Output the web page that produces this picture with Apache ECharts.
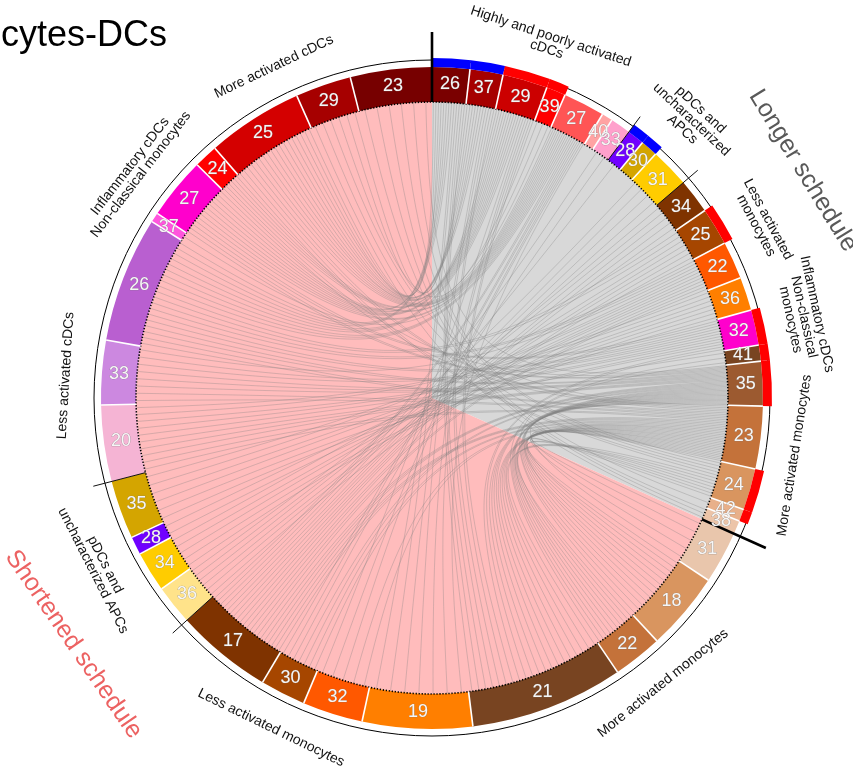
<!DOCTYPE html>
<html><head><meta charset="utf-8">
<script src="https://cdn.jsdelivr.net/npm/echarts@6/dist/echarts.min.js"></script>
<style>html,body{margin:0;padding:0;background:#fff}#c{width:853px;height:769px}</style>
</head><body><div id="c"></div>
<script>
// ================= DATA =================
const titleText = 'cytes-DCs';
const scheduleNames = ['Longer schedule', 'Shortened schedule'];
const scheduleSegCounts = [21, 21];

// segments, clockwise from the top
const segNumbers = [26,37,29,39,27,40,33,28,30,31,34,25,22,36,32,41,35,23,24,42,38,
                    31,18,22,21,19,32,30,17,36,34,28,35,20,33,26,37,27,24,25,29,23];
const segSizes = [6.6,5.8,7.9,3.4,7.3,1.9,3.6,3.0,3.0,6.9,6.1,6.6,6.6,5.9,6.2,2.8,7.8,11.0,7.3,2.1,2.4,
                  9.2,13.8,8.7,27.0,19.3,10.6,8.0,17.0,7.0,7.1,3.2,10.3,13.4,11.3,22.1,1.7,10.9,4.2,16.9,9.8,14.3];
const segColors = ['#7a0000','#a60000','#cc0000','#ff0000','#ff5555','#ffa3a3','#ffa0cc','#7000ff','#d4a500','#ffcc00',
                   '#7f3300','#a64600','#ff5800','#ff7f00','#ff00cc','#784421','#9c5a30','#c4723a','#d9955f','#e8b08a','#ecc4a8',
                   '#e9c6ac','#d9955f','#c4723a','#784421','#ff7f00','#ff5800','#a64600','#7f3300','#ffe38a','#ffcc00',
                   '#7000ff','#d4a500','#f5b4d4','#cc88e0','#b95fd0','#ff55dd','#ff00cc','#ff0000','#d40000','#a60000','#770000'];
const segMarks = ['blue','blue','red','red','','','','blue','blue','','','red','','','red','red','red','','red','red','',
                  '','','','','','','','','','','','','','','','','','','','',''];

const groupNames = ['Highly and poorly activated\ncDCs', 'pDCs and\nuncharacterized\nAPCs', 'Less activated\nmonocytes',
                    'Inflammatory cDCs\nNon-classical\nmonocytes', 'More activated monocytes',
                    'More activated monocytes', 'Less activated monocytes', 'pDCs and\nuncharacterized APCs',
                    'Less activated cDCs', 'Inflammatory cDCs\nNon-classical monocytes', 'More activated cDCs'];
const groupSegCounts = [7,3,4,1,6, 4,4,4,3,2,4];

// links: [shortened segment, longer segment, number of links]
const linkPairs = [
  [35,0,3],[35,2,3],[35,4,3],[37,0,2],[37,1,2],[37,2,3],[37,4,2],[38,2,2],[38,4,2],
  [39,0,3],[39,1,3],[39,2,3],[39,3,2],[39,4,3],[40,1,2],[40,3,1],[36,4,1],
  [21,16,1],[21,17,2],[21,18,2],[22,15,1],[22,16,5],[22,17,5],[22,18,2],
  [23,15,1],[23,16,4],[23,17,4],[23,18,1],[24,14,2],[24,16,4],[24,17,5],[24,18,2],
  [24,0,3],[24,1,2],[24,2,2],[25,0,2],[25,1,2],[25,2,2],[25,4,1],
  [26,2,1],[26,4,2],[26,17,2],[27,4,2],[27,6,1],[27,16,2],[27,17,2],
  [28,4,2],[28,6,1],[28,7,1],[28,9,3],[28,10,3],[28,11,2],[28,12,2],[28,16,3],[28,17,3],
  [29,9,1],[29,10,2],[29,11,2],[29,12,1],[30,11,1],[30,12,2],[30,13,2],[31,12,1],[31,13,1],
  [32,12,2],[32,13,2],[32,14,2],
  [33,13,2],[33,14,2],[33,15,1],[33,16,3],[33,17,2],[34,12,1],[34,14,2],[34,16,3],[34,17,2],
  [35,11,2],[35,12,2],[35,14,2],[35,16,2],[35,17,2],[37,14,2],[37,16,2],[38,16,1],[38,17,1],
  [39,17,2],[39,18,2],[40,17,1],[40,18,1],[40,20,1],[41,16,1],[41,18,2],[41,19,1],[41,20,2]
];

// ================= LAYOUT / STYLE =================
const L = { cx: 432, cy: 398, rIn: 296, rOut: 331, rText: 314, rCircle: 338, rBand0: 331, rBand1: 340,
            rTick: 350, rMajor: 366, cp: 0.15, labelBase: 367, labelStep: 13.5, scheduleR: 435 };
const LABEL_ANGLE = [18.2, 43, 62, 77.7, 99, 141, 206, 243, 273.5, 307.5, 334.5];
const SCHEDULE_ANGLE = [58.5, 235.5];
const SCHEDULE_BG = ['#d8d8d8', '#ffbcbc'];
const SCHEDULE_TXT = ['#595959', '#ec6262'];
const FONT = '"Liberation Sans", Arial, sans-serif';

// ================= DERIVED =================
const segStart = []; { let acc = 0; segSizes.forEach(s => { segStart.push(acc); acc += s; }); }
const segEnd = segSizes.map((s, i) => segStart[i] + s);
const segSchedule = []; scheduleSegCounts.forEach((n, g) => { for (let k = 0; k < n; k++) segSchedule.push(g); });
const segGroup = []; groupSegCounts.forEach((n, g) => { for (let k = 0; k < n; k++) segGroup.push(g); });
const scheduleRanges = []; { let i = 0; scheduleSegCounts.forEach(n => { scheduleRanges.push([segStart[i], segEnd[i + n - 1]]); i += n; }); }
const SPLIT = scheduleRanges[0][1];
const segCenter = i => segStart[i] + segSizes[i] / 2;
const unwrap = a => a < SPLIT ? a + 360 : a;

// link endpoint layout inside each segment
const ends = segNumbers.map(() => []);
const links = [];
linkPairs.forEach(([s, d, n]) => {
  for (let k = 0; k < n; k++) {
    const id = links.length; links.push({});
    ends[s].push({ id, key: -unwrap(segCenter(d)), sub: k, side: 'a' });
    ends[d].push({ id, key: -unwrap(segCenter(s)), sub: -k, side: 'b' });
  }
});
ends.forEach((list, i) => {
  list.sort((x, y) => (x.key - y.key) || (x.sub - y.sub));
  const n = list.length;
  list.forEach((e, j) => { links[e.id][e.side] = segStart[i] + segSizes[i] * (j + 0.5) / n; });
});

// boundaries
const boundaries = segNumbers.map((_, i) => {
  const p = (i + segNumbers.length - 1) % segNumbers.length;
  let kind = 'white';
  if (segSchedule[p] !== segSchedule[i]) kind = 'major';
  else if (segGroup[p] !== segGroup[i] && (groupNames[segGroup[p]].startsWith('pDCs') || groupNames[segGroup[i]].startsWith('pDCs'))) kind = 'tick';
  return [segStart[i], kind];
});

// group label lines
const labelItems = [];
groupNames.forEach((name, g) => {
  const lines = name.split('\n'); const n = lines.length; const th = LABEL_ANGLE[g];
  const lower = th > 90 && th < 270;
  lines.forEach((t, k) => {
    labelItems.push({ text: t, r: L.labelBase + (lower ? k : (n - 1 - k)) * L.labelStep, th, rot: lower ? th - 180 : th });
  });
});

// ================= HELPERS =================
function sectorShape(api, cs, r0, r1, a0, a1) {
  const o0 = api.coord([r1, a0]), o1 = api.coord([r1, a1]), i0 = api.coord([r0, a0]);
  const cx = cs.cx, cy = cs.cy;
  let s = Math.atan2(o0[1] - cy, o0[0] - cx), e = Math.atan2(o1[1] - cy, o1[0] - cx);
  while (e <= s + 1e-9) e += Math.PI * 2;
  return { cx, cy, r0: Math.hypot(i0[0] - cx, i0[1] - cy), r: Math.hypot(o0[0] - cx, o0[1] - cy), startAngle: s, endAngle: e, clockwise: true };
}
function radialLine(api, r0, r1, a) {
  const p = api.coord([r0, a]), q = api.coord([r1, a]);
  return { x1: p[0], y1: p[1], x2: q[0], y2: q[1] };
}
const base = { type: 'custom', coordinateSystem: 'polar', silent: true, animation: false };

const chart = echarts.init(document.getElementById('c'));
chart.setOption({
  animation: false,
  title: { text: titleText, left: -4, top: 13, textStyle: { fontSize: 36, fontWeight: 'normal', color: '#000', fontFamily: FONT } },
  polar: { center: [L.cx, L.cy], radius: 450 },
  angleAxis: { type: 'value', min: 0, max: 360, startAngle: 90, clockwise: true, show: false,
               axisLine: { show: false }, axisTick: { show: false }, axisLabel: { show: false }, splitLine: { show: false } },
  radiusAxis: { type: 'value', min: 0, max: 450, show: false,
                axisLine: { show: false }, axisTick: { show: false }, axisLabel: { show: false }, splitLine: { show: false } },
  series: [
    Object.assign({}, base, { name: 'schedules', z: 1,
      data: scheduleRanges.map((r, g) => [r[0], r[1], g]),
      renderItem: (params, api) => ({ type: 'sector', shape: sectorShape(api, params.coordSys, 0, L.rIn, api.value(0), api.value(1)),
        style: { fill: SCHEDULE_BG[api.value(2)] } }) }),
    Object.assign({}, base, { name: 'links', z: 2,
      data: links.map(l => [l.a, l.b]),
      renderItem: (params, api) => {
        const a = api.value(0), b = api.value(1);
        const p0 = api.coord([L.rIn, a]), p1 = api.coord([L.rIn, b]);
        const c0 = api.coord([L.rIn * L.cp, a]), c1 = api.coord([L.rIn * L.cp, b]);
        return { type: 'bezierCurve', shape: { x1: p0[0], y1: p0[1], x2: p1[0], y2: p1[1], cpx1: c0[0], cpy1: c0[1], cpx2: c1[0], cpy2: c1[1] },
          style: { fill: 'none', stroke: 'rgba(125,125,125,0.4)', lineWidth: 0.8 } };
      } }),
    Object.assign({}, base, { name: 'segments', z: 3,
      data: segNumbers.map((n, i) => [segStart[i], segEnd[i], i]),
      renderItem: (params, api) => ({ type: 'sector', shape: sectorShape(api, params.coordSys, L.rIn, L.rOut, api.value(0), api.value(1)),
        style: { fill: segColors[api.value(2)] } }) }),
    Object.assign({}, base, { name: 'rings', z: 4,
      data: [[L.rIn, 0], [L.rCircle, 1]],
      renderItem: (params, api) => {
        const cs = params.coordSys; const p = api.coord([api.value(0), 0]);
        const r = Math.hypot(p[0] - cs.cx, p[1] - cs.cy);
        const dotted = api.value(1) === 0;
        return { type: 'circle', shape: { cx: cs.cx, cy: cs.cy, r },
          style: { fill: 'none', stroke: '#000', lineWidth: dotted ? 1.6 : 1, lineDash: dotted ? [1.3, 1.7] : null } };
      } }),
    Object.assign({}, base, { name: 'marks', z: 5,
      data: segMarks.map((m, i) => [segStart[i], segEnd[i], i]).filter(d => segMarks[d[2]]),
      renderItem: (params, api) => ({ type: 'sector', shape: sectorShape(api, params.coordSys, L.rBand0, L.rBand1, api.value(0), api.value(1)),
        style: { fill: segMarks[api.value(2)] === 'blue' ? '#0000ff' : '#ff0000' } }) }),
    Object.assign({}, base, { name: 'boundaries', z: 6,
      data: boundaries.map(b => [b[0], b[1] === 'white' ? 0 : b[1] === 'tick' ? 1 : 2]),
      renderItem: (params, api) => {
        const k = api.value(1), a = api.value(0);
        if (k === 0) return { type: 'line', shape: radialLine(api, L.rIn, L.rOut, a), style: { stroke: '#fff', lineWidth: 1.6 } };
        if (k === 1) return { type: 'line', shape: radialLine(api, L.rIn, L.rTick, a), style: { stroke: '#111', lineWidth: 1 } };
        return { type: 'line', shape: radialLine(api, L.rIn, L.rMajor, a), style: { stroke: '#000', lineWidth: 2.6 } };
      } }),
    Object.assign({}, base, { name: 'numbers', z: 7,
      data: segNumbers.map((n, i) => [L.rText, segCenter(i), n]),
      renderItem: (params, api) => {
        const p = api.coord([api.value(0), api.value(1)]);
        return { type: 'text', x: p[0], y: p[1], style: { text: String(api.value(2)), fill: '#f6f6f6', stroke: 'rgba(120,120,120,0.7)', lineWidth: 0.6,
          font: '18px ' + FONT, align: 'center', verticalAlign: 'middle' } };
      } }),
    Object.assign({}, base, { name: 'groupLabels', z: 7,
      data: labelItems.map(o => [o.r, o.th]),
      renderItem: (params, api) => {
        const o = labelItems[params.dataIndex];
        const p = api.coord([api.value(0), api.value(1)]);
        return { type: 'text', x: p[0], y: p[1], rotation: -o.rot * Math.PI / 180,
          style: { text: o.text, fill: '#111', font: '14px ' + FONT, align: 'center', verticalAlign: 'middle' } };
      } }),
    Object.assign({}, base, { name: 'scheduleLabels', z: 7,
      data: scheduleNames.map((n, g) => [L.scheduleR, SCHEDULE_ANGLE[g], g]),
      renderItem: (params, api) => {
        const g = api.value(2), th = api.value(1);
        const rot = (th > 90 && th < 270) ? th - 180 : th;
        const p = api.coord([api.value(0), th]);
        return { type: 'text', x: p[0], y: p[1], rotation: -rot * Math.PI / 180,
          style: { text: scheduleNames[g], fill: SCHEDULE_TXT[g], font: '25px ' + FONT, align: 'center', verticalAlign: 'middle' } };
      } })
  ]
});
</script>
</body></html>
